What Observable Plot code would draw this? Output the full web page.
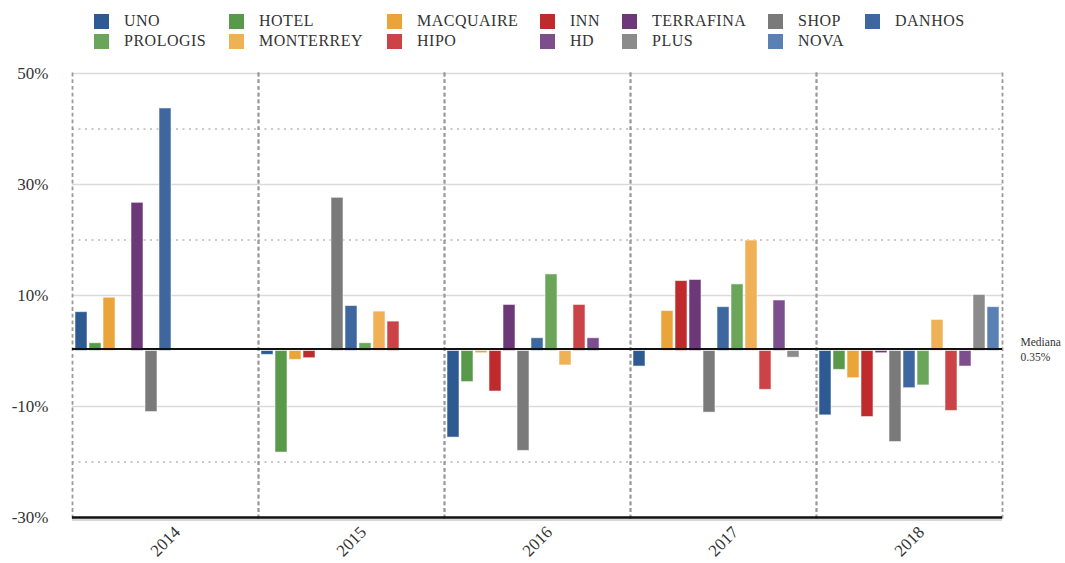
<!DOCTYPE html>
<html><head><meta charset="utf-8">
<script src="https://cdn.jsdelivr.net/npm/d3@7"></script>
<script src="https://cdn.jsdelivr.net/npm/@observablehq/plot@0.6"></script>
<style>
body{margin:0;background:#fff;}
#wrap{width:1065px;height:563px;position:relative;overflow:hidden;background:#fff}
#legend{position:relative;height:56px;width:1065px}
.item{position:absolute;display:flex;align-items:center;font-size:16px;color:#333;white-space:nowrap;letter-spacing:0.5px;line-height:1;height:16px}
.sw{width:15px;height:15px;margin-right:15px;flex:none}
#chart svg{display:block}
</style></head>
<body><div id="wrap" style="font-family:'Liberation Serif'"><div id="legend"></div><div id="chart"></div></div>
<script>
const years = ["2014", "2015", "2016", "2017", "2018"];
const series = ["UNO", "HOTEL", "MACQUAIRE", "INN", "TERRAFINA", "SHOP", "DANHOS",
                "PROLOGIS", "MONTERREY", "HIPO", "HD", "PLUS", "NOVA"];
const colors = ["#2c5a91", "#58994a", "#eba43a", "#bf2a2c", "#6c3878", "#7a7a7a", "#3e67a0",
                "#6aa55a", "#efb056", "#cb4346", "#7d4e8c", "#8b8b8b", "#5b80b4"];

// values per series, one per year (null = no bar)
const UNO       = [7.0, -0.7, -15.6, -2.8, -11.6];
const HOTEL     = [1.4, -18.3, -5.6, null, -3.4];
const MACQUAIRE = [9.6, -1.6, -0.4, 7.2, -4.9];
const INN       = [null, -1.3, -7.3, 12.6, -11.9];
const TERRAFINA = [26.7, null, 8.3, 12.8, -0.4];
const SHOP      = [-11.0, 27.6, -18.0, -11.1, -16.4];
const DANHOS    = [43.7, 8.1, 2.3, 7.9, -6.7];
const PROLOGIS  = [null, 1.4, 13.8, 12.0, -6.2];
const MONTERREY = [null, 7.1, -2.6, 19.9, 5.6];
const HIPO      = [null, 5.3, 8.3, -7.0, -10.8];
const HD        = [null, null, 2.3, 9.1, -2.8];
const PLUS      = [null, null, null, -1.2, 10.1];
const NOVA      = [null, null, null, null, 7.9];

const median = 0.35;
const medianLabel = "Mediana\n0.35%";
const yTicks = [50, 30, 10, -10, -30];
const solidGrid = [50, 30, 10, -10];
const dottedGrid = [40, 20, -20];

const valuesBySeries = [UNO, HOTEL, MACQUAIRE, INN, TERRAFINA, SHOP, DANHOS,
                        PROLOGIS, MONTERREY, HIPO, HD, PLUS, NOVA];

const rows = [];
years.forEach((yr, i) => series.forEach((s, j) => {
  const v = valuesBySeries[j][i];
  if (v != null) rows.push({year: yr, series: s, value: v});
}));

const FONT = "Liberation Serif";

// legend (HTML, above the SVG)
const legendCols = [94, 229, 387, 540, 622, 768, 865];
const legend = document.getElementById("legend");
series.forEach((s, i) => {
  const row = i < 7 ? 0 : 1;
  const col = i < 7 ? i : i - 7;
  const el = document.createElement("div");
  el.className = "item";
  el.style.left = legendCols[col] + "px";
  el.style.top = (row === 0 ? 13 : 33) + "px";
  el.style.fontFamily = FONT;
  el.innerHTML = `<span class="sw" style="background:${colors[i]}"></span><span style="font-family:'Liberation Serif'">${s}</span>`;
  legend.appendChild(el);
});

const chart = Plot.plot({
  width: 1065,
  height: 507,
  marginTop: 17,
  marginBottom: 46,
  marginLeft: 71,
  marginRight: 63,
  style: {fontFamily: FONT, color: "#333", background: "white", overflow: "visible"},
  fx: {domain: years, padding: 0, label: null},
  x: {domain: series, paddingInner: 0.12, paddingOuter: 0.2, axis: null},
  y: {domain: [-30, 50], label: null},
  color: {domain: series, range: colors},
  marks: [
    Plot.ruleY(solidGrid, {stroke: "#dadada", strokeWidth: 1.5}),
    Plot.ruleY(dottedGrid, {stroke: "#b8b8b8", strokeWidth: 1.6, strokeDasharray: "2,4.5"}),
    Plot.frame({anchor: "left", stroke: "#9a9a9a", strokeWidth: 1.8, strokeDasharray: "2,4.7"}),
    Plot.frame({anchor: "right", stroke: "#9a9a9a", strokeWidth: 1.8, strokeDasharray: "2,4.7"}),
    Plot.barY(rows, {fx: "year", x: "series", y: "value", fill: "series",
                     stroke: "white", strokeOpacity: 0.55, strokeWidth: 1}),
    Plot.ruleY([median], {stroke: "#111", strokeWidth: 2}),
    Plot.ruleY([-30], {stroke: "#111", strokeWidth: 2.5}),
    Plot.ruleY([-30], {stroke: "#b0b0b0", strokeWidth: 1, dy: 2.5}),
    Plot.text([{year: years[years.length - 1], v: median, label: medianLabel}],
      {fx: "year", y: "v", text: "label", frameAnchor: "right", textAnchor: "start",
       dx: 18, fontSize: 11.5, lineHeight: 1.3, fill: "#333", fontFamily: FONT}),
    Plot.axisY({ticks: yTicks, tickFormat: d => d + "%", tickSize: 0, tickPadding: 24,
                fontSize: 17, label: null, fill: "#333", fontFamily: FONT}),
    Plot.axisFx({anchor: "bottom", tickSize: 0, tickRotate: -45, textAnchor: "middle",
                 lineAnchor: "middle", tickPadding: 24, fontSize: 17, label: null, fill: "#333",
                 fontFamily: FONT})
  ]
});
document.getElementById("chart").appendChild(chart);
</script>
</body></html>
